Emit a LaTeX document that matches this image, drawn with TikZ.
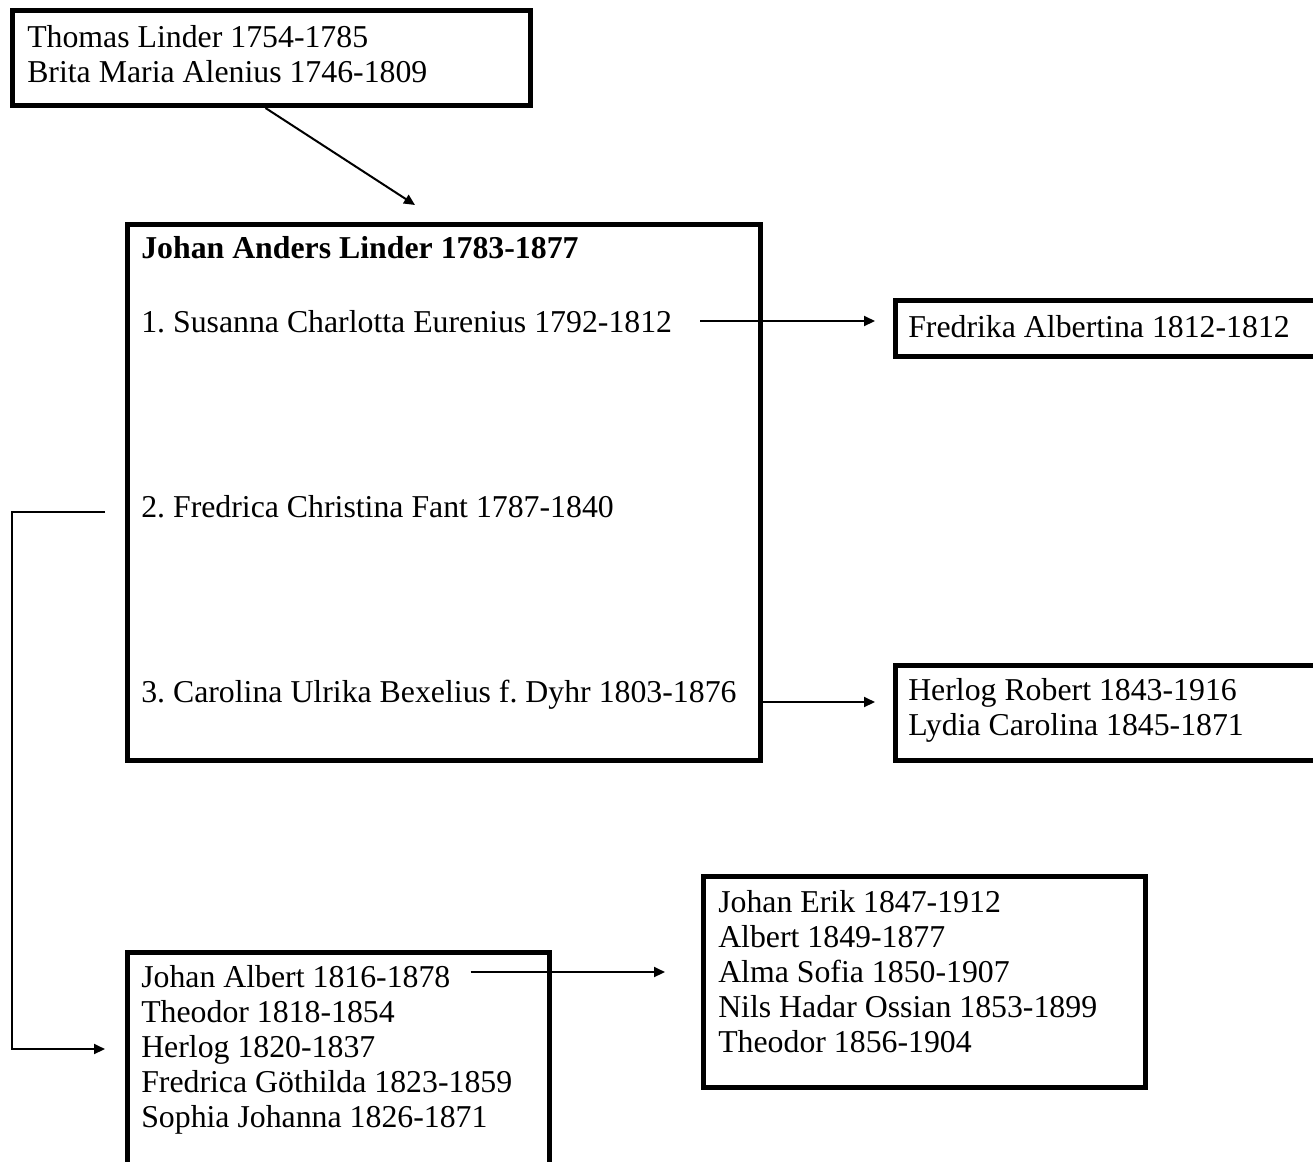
\documentclass[tikz,border=0pt]{standalone}
\usepackage{fontspec}
\setmainfont{Liberation Serif}
\usetikzlibrary{arrows.meta,calc}

\begin{document}
\frenchspacing
\begin{tikzpicture}[x=0.75pt,y=-0.75pt]
\tikzstyle{every node}=[font=\fontsize{23.85}{26.25}\selectfont]
\tikzstyle{famBox}=[draw,line width=3.75pt,inner sep=0pt]
\tikzstyle{person}=[anchor=base west,inner sep=0pt]
\tikzstyle{link}=[line width=1.5pt,-{Triangle[length=8.25pt,width=7.5pt]}]
\useasboundingbox (0,0) rectangle (1313,1161);

% boxes
\node[famBox,minimum width=388.5pt,minimum height=71.25pt] (parentsBox) at (271.5,58) {};
\node[famBox,minimum width=474.75pt,minimum height=402pt] (mainBox) at (444,492.5) {};
\node[famBox,minimum width=378.375pt,minimum height=42pt] (fredrikaBox) at (1147.75,328) {};
\node[famBox,minimum width=378.375pt,minimum height=71.25pt] (herlogBox) at (1147.75,713) {};
\node[famBox,minimum width=316.5pt,minimum height=223.125pt] (kidsBox) at (338.5,1101.25) {};
\node[famBox,minimum width=331.5pt,minimum height=158.25pt] (grandkidsBox) at (924.5,982) {};

% names
\node[person] (thomas) at (27,47) {Thomas Linder 1754-1785};
\node[person] (brita) at (27,82) {Brita Maria Alenius 1746-1809};
\node[person] (johan) at (141,258) {\bfseries Johan Anders Linder 1783-1877};
\node[person] (wife1) at (141,332) {1. Susanna Charlotta Eurenius 1792-1812};
\node[person] (wife2) at (141,517) {2. Fredrica Christina Fant 1787-1840};
\node[person] (wife3) at (141,702) {3. Carolina Ulrika Bexelius f. Dyhr 1803-1876};
\node[person] (fredrika) at (908,337) {Fredrika Albertina 1812-1812};
\node[person] (herlogR) at (908,700) {Herlog Robert 1843-1916};
\node[person] (lydia) at (908,735) {Lydia Carolina 1845-1871};
\foreach \i/\t in {1/Johan Albert 1816-1878,2/Theodor 1818-1854,3/Herlog 1820-1837,
                   4/Fredrica Göthilda 1823-1859,5/Sophia Johanna 1826-1871}
  \node[person] (kid\i) at (141,952+35*\i) {\t};
\foreach \i/\t in {1/Johan Erik 1847-1912,2/Albert 1849-1877,3/Alma Sofia 1850-1907,
                   4/Nils Hadar Ossian 1853-1899,5/Theodor 1856-1904}
  \node[person] (gkid\i) at (718,877+35*\i) {\t};

% links
\coordinate (mainTop) at (415,205);
\coordinate (trunk) at (12,0);
\draw[link] ($(parentsBox.south)+(-6,0)$) -- (mainTop);
\draw[link] ($(wife1.base east)+(28,-11)$) -- ($(wife1.base -| fredrikaBox.west)+(-18,-11)$);
\draw[link] (wife3.base -| mainBox.east) -- ($(wife3.base -| herlogBox.west)+(-18,0)$);
\draw[link] ($(wife2.base -| mainBox.west)+(-20,-5)$) -| ($(kid3.base -| trunk)+(0,-8)$)
  -- ($(kid3.base -| kidsBox.west)+(-20,-8)$);
\draw[link] ($(kid1.base east)+(20,-15)$) -- ($(kid1.base -| grandkidsBox.west)+(-36,-15)$);
\end{tikzpicture}
\end{document}
